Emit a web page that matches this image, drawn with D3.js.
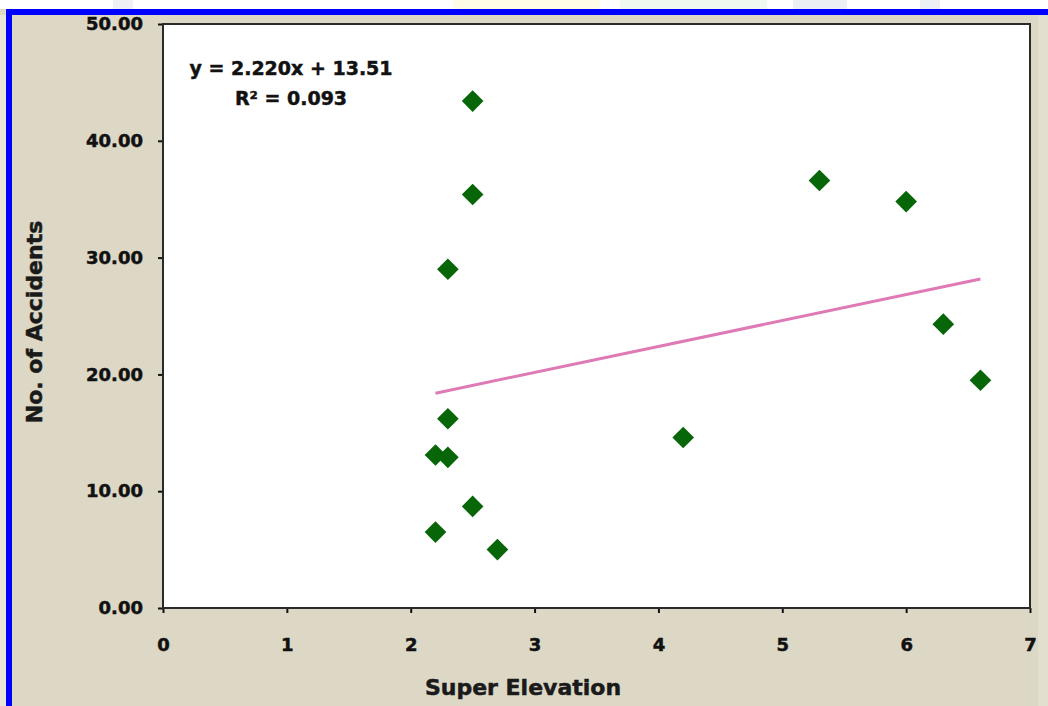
<!DOCTYPE html>
<html>
<head>
<meta charset="utf-8">
<script src="https://cdn.jsdelivr.net/npm/d3@7"></script>
<style>
  body { margin: 0; background: #ffffff; }
  svg { display: block; }
  .tick text { font-family: 'DejaVu Sans', Verdana, sans-serif; font-weight: bold; fill: #111; stroke: #111; stroke-width: 0.5px; }
  .heavy { stroke: #1a1a1a; stroke-width: 0.5px; }
</style>
</head>
<body>
<svg id="chart" width="1048" height="706"></svg>
<script>

// data
var superElevation = [2.2, 2.3, 2.3, 2.3, 2.2, 2.5, 2.5, 2.5, 2.7, 4.2, 5.3, 6.0, 6.3, 6.6];
var accidents      = [13.1, 12.9, 16.2, 29.0, 6.5, 43.4, 35.4, 8.7, 5.0, 14.6, 36.6, 34.8, 24.3, 19.5];

var xTicks = [0, 1, 2, 3, 4, 5, 6, 7];
var yTicks = [0, 10, 20, 30, 40, 50];

var trendSlope = 2.220;
var trendIntercept = 13.51;
var trendRange = [2.2, 6.6];
var equationLines = ['y = 2.220x + 13.51', 'R\u00B2 = 0.093'];

var xTitle = 'Super Elevation';
var yTitle = 'No. of Accidents';

// faint watermark pieces peeking above the frame
var watermark = [
  {x0: 113, x1: 133, c: '#eef0f4'},
  {x0: 453, x1: 600, c: '#fefbe6'},
  {x0: 620, x1: 767, c: '#eefaf0'},
  {x0: 793, x1: 847, c: '#eceff3'},
  {x0: 920, x1: 940, c: '#eceff3'}
];

var W = 1048, H = 706;
var margin = {top: 24, right: 18, bottom: 98, left: 163};
var width = W - margin.left - margin.right;
var height = H - margin.top - margin.bottom;

var svg = d3.select('#chart');

// page background + frame
svg.append('rect').attr('x', 0).attr('y', 0).attr('width', W).attr('height', H).attr('fill', '#ffffff');
svg.selectAll('.wm')
   .data(watermark)
   .enter()
   .append('rect')
   .attr('class', 'wm')
   .attr('x', d => d.x0)
   .attr('y', 0)
   .attr('width', d => d.x1 - d.x0)
   .attr('height', 9)
   .attr('fill', d => d.c);
svg.append('rect').attr('x', 0).attr('y', 9).attr('width', W).attr('height', H - 9).attr('fill', '#ddd8c5');
svg.append('rect').attr('x', 0).attr('y', 15).attr('width', 6).attr('height', H).attr('fill', '#e9e5d8');
svg.append('rect').attr('x', 1038).attr('y', 15).attr('width', 10).attr('height', H).attr('fill', '#e3dfcf');
svg.append('rect').attr('x', 6).attr('y', 9).attr('width', W - 6).attr('height', 6).attr('fill', '#0000ff');
svg.append('rect').attr('x', 6).attr('y', 9).attr('width', 6).attr('height', H - 9).attr('fill', '#0000ff');

var g = svg.append('g')
           .attr('transform', 'translate(' + margin.left + ',' + margin.top + ')');

var x = d3.scaleLinear().domain([0, 7]).range([0, width]);
var y = d3.scaleLinear().domain([0, 50]).range([height, 0]);

// plot area
g.append('rect')
 .attr('x', 0).attr('y', 0)
 .attr('width', width).attr('height', height)
 .attr('fill', '#ffffff');

g.append('g')
 .attr('class', 'axis')
 .attr('transform', 'translate(0,' + height + ')')
 .call(d3.axisBottom(x).tickValues(xTicks).tickFormat(d3.format('d')).tickSize(5).tickPadding(25))
 .call(a => a.select('.domain').remove())
 .selectAll('text')
 .style('font-size', '18px');

g.append('g')
 .attr('class', 'axis')
 .call(d3.axisLeft(y).tickValues(yTicks).tickFormat(d3.format('.2f')).tickSize(5).tickPadding(15))
 .call(a => a.select('.domain').remove())
 .selectAll('text')
 .style('font-size', '18px');

g.selectAll('.tick line').attr('stroke', '#111').attr('stroke-width', 2);

g.append('rect')
 .attr('x', 0).attr('y', 0)
 .attr('width', width).attr('height', height)
 .attr('fill', 'none')
 .attr('stroke', '#2a2a2a')
 .attr('stroke-width', 2);

// trend line
var trend = trendRange.map(v => ({x: v, y: trendSlope * v + trendIntercept}));
g.append('path')
 .datum(trend)
 .attr('d', d3.line().x(d => x(d.x)).y(d => y(d.y)))
 .attr('stroke', '#de7ab5')
 .attr('stroke-width', 3)
 .attr('fill', 'none');

// points
var points = superElevation.map((v, i) => ({x: v, y: accidents[i]}));
var diamond = d3.symbol().type(d3.symbolSquare).size(235);
g.selectAll('.pt')
 .data(points)
 .enter()
 .append('path')
 .attr('class', 'pt')
 .attr('d', diamond)
 .attr('transform', d => 'translate(' + x(d.x) + ',' + y(d.y) + ') rotate(45)')
 .attr('fill', '#076607');

// equation
svg.selectAll('.eq')
   .data(equationLines)
   .enter()
   .append('text')
   .attr('class', 'eq heavy')
   .attr('x', 291)
   .attr('y', (d, i) => 75 + i * 30)
   .attr('text-anchor', 'middle')
   .style('font-family', "'DejaVu Sans', Verdana, sans-serif")
   .style('font-weight', 'bold')
   .style('font-size', '19px')
   .attr('fill', '#111')
   .text(d => d);

// axis titles
svg.append('text')
   .attr('class', 'heavy')
   .attr('x', 523)
   .attr('y', 695)
   .attr('text-anchor', 'middle')
   .style('font-family', "'DejaVu Sans', Verdana, sans-serif")
   .style('font-weight', 'bold')
   .style('font-size', '22px')
   .attr('fill', '#1a1a1a')
   .text(xTitle);

svg.append('text')
   .attr('class', 'heavy')
   .attr('transform', 'translate(42,322) rotate(-90)')
   .attr('text-anchor', 'middle')
   .style('font-family', "'DejaVu Sans', Verdana, sans-serif")
   .style('font-weight', 'bold')
   .style('font-size', '22px')
   .attr('fill', '#1a1a1a')
   .text(yTitle);

</script>
</body>
</html>
